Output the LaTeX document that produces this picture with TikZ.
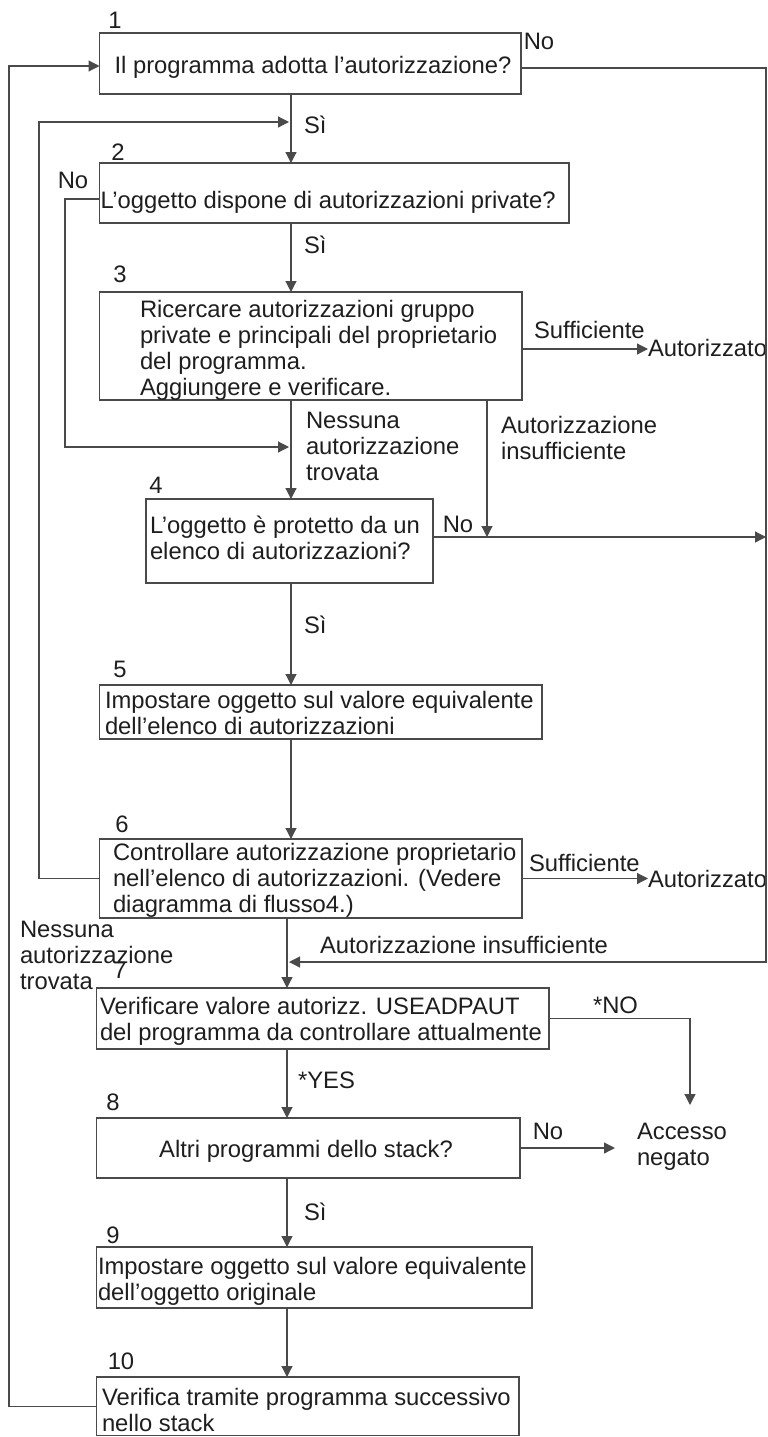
\documentclass[tikz,border=0pt]{standalone}
\usepackage{fontspec}
\setmainfont{Liberation Sans}
\usetikzlibrary{arrows.meta}
\definecolor{ink}{HTML}{1E1E1E}
\definecolor{rule}{HTML}{4A4A4A}
\begin{document}
\begin{tikzpicture}[x=1pt,y=-1pt,
  every node/.style={inner sep=0pt, outer sep=0pt, text=ink},
  txt/.style={font=\fontsize{23.8}{26}\selectfont, align=left},
  box/.style={draw=rule, line width=1.2pt, rectangle, anchor=north west},
  wire/.style={draw=rule, line width=1.2pt},
  flow/.style={wire, -{Triangle[length=11pt,width=11pt]}},
]
\useasboundingbox (0,0) rectangle (768,1437);

% ---- boxes ----
\node[box, minimum width=421.5pt, minimum height=61pt] (b1) at (99.5,33) {};
\node[box, minimum width=469.5pt, minimum height=60pt] (b2) at (99.5,163) {};
\node[box, minimum width=422.5pt, minimum height=108pt] (b3) at (99.5,292) {};
\node[box, minimum width=287pt, minimum height=84pt] (b4) at (146,499) {};
\node[box, minimum width=442.5pt, minimum height=54pt] (b5) at (99.5,685) {};
\node[box, minimum width=422.5pt, minimum height=79pt] (b6) at (99.5,839) {};
\node[box, minimum width=452.5pt, minimum height=61pt] (b7) at (96.5,988) {};
\node[box, minimum width=423.5pt, minimum height=60pt] (b8) at (96.5,1118) {};
\node[box, minimum width=435.5pt, minimum height=61pt] (b9) at (96.5,1247) {};
\node[box, minimum width=422.5pt, minimum height=58.5pt] (b10) at (96.5,1377) {};

% ---- box texts (base = baseline of the last line) ----
\node[txt, anchor=base] (t1) at (313,74) {Il programma adotta l’autorizzazione?};
\node[txt, anchor=base west] (t2) at (100.5,208) {L’oggetto dispone di autorizzazioni private?};
\node[txt, anchor=base west] (t3) at (140,395) {Ricercare autorizzazioni gruppo\\private e principali del proprietario\\del programma.\\Aggiungere e verificare.};
\node[txt, anchor=base west] (t4) at (150,559) {L’oggetto è protetto da un\\elenco di autorizzazioni?};
\node[txt, anchor=base west] (t5) at (105,734) {Impostare oggetto sul valore equivalente\\dell’elenco di autorizzazioni};
\node[txt, anchor=base west] (t6) at (113,912) {Controllare autorizzazione proprietario\\nell’elenco di autorizzazioni. (Vedere\\diagramma di flusso4.)};
\node[txt, anchor=base west] (t7) at (100,1040) {Verificare valore autorizz. USEADPAUT\\del programma da controllare attualmente};
\node[txt, anchor=base] (t8) at (306,1157) {Altri programmi dello stack?};
\node[txt, anchor=base west] (t9) at (98,1300) {Impostare oggetto sul valore equivalente\\dell’oggetto originale};
\node[txt, anchor=base west] (t10) at (102,1431) {Verifica tramite programma successivo\\nello stack};

% ---- step numbers ----
\node[txt, anchor=base] (n1) at (115,29) {1};
\node[txt, anchor=base] (n2) at (118,160) {2};
\node[txt, anchor=base] (n3) at (120,282) {3};
\node[txt, anchor=base] (n4) at (156,493) {4};
\node[txt, anchor=base] (n5) at (120,677) {5};
\node[txt, anchor=base] (n6) at (122,832) {6};
\node[txt, anchor=base] (n7) at (120,978) {7};
\node[txt, anchor=base] (n8) at (113,1110) {8};
\node[txt, anchor=base] (n9) at (113,1243) {9};
\node[txt, anchor=base] (n10) at (121,1369) {10};

% ---- branch labels and outcomes ----
\node[txt, anchor=base] (l1no) at (539,50) {No};
\node[txt, anchor=base west] (l1si) at (304,133) {Sì};
\node[txt, anchor=base] (l2no) at (73,188) {No};
\node[txt, anchor=base west] (l2si) at (304,253) {Sì};
\node[txt, anchor=base west] (l3ok) at (534,338) {Sufficiente};
\node[txt, anchor=base west] (a3) at (648,356) {Autorizzato};
\node[txt, anchor=base west] (l3none) at (306,480) {Nessuna\\autorizzazione\\trovata};
\node[txt, anchor=base west] (l3low) at (501,459) {Autorizzazione\\insufficiente};
\node[txt, anchor=base] (l4no) at (458,532) {No};
\node[txt, anchor=base west] (l4si) at (304,633) {Sì};
\node[txt, anchor=base west] (l6ok) at (529,871) {Sufficiente};
\node[txt, anchor=base west] (a6) at (648,887) {Autorizzato};
\node[txt, anchor=base west] (l6none) at (20,989) {Nessuna\\autorizzazione\\trovata};
\node[txt, anchor=base west] (l6low) at (320,953) {Autorizzazione insufficiente};
\node[txt, anchor=base west] (l7no) at (593,1013) {*NO};
\node[txt, anchor=base west] (l7yes) at (298,1088) {*YES};
\node[txt, anchor=base] (l8no) at (548,1139) {No};
\node[txt, anchor=base west] (den) at (637,1165) {Accesso\\negato};
\node[txt, anchor=base west] (l8si) at (304,1220) {Sì};

% ---- rails, ports and junction points ----
\coordinate (colA) at (291,0);
\coordinate (colB) at (287,0);
\coordinate (colR) at (766,0);
\coordinate (colL) at (9,0);
\coordinate (colM) at (39,0);
\coordinate (colN) at (65,0);
\coordinate (colI) at (487,0);
\coordinate (p1in) at (99.5,66);
\coordinate (p1out) at (521,68);
\coordinate (p2out) at (99.5,199);
\coordinate (p3out) at (522,349);
\coordinate (p4out) at (433,537);
\coordinate (j2) at (289,122);
\coordinate (j4) at (289,447);
\coordinate (j7) at (289,962);
\coordinate (j8) at (690,1105);
\coordinate (j9) at (615,1148);

% ---- main column ----
\draw[flow] (b1.south -| colA) -- (b2.north -| colA);
\draw[flow] (b2.south -| colA) -- (b3.north -| colA);
\draw[flow] (b3.south -| colA) -- (b4.north -| colA);
\draw[flow] (b4.south -| colA) -- (b5.north -| colA);
\draw[flow] (b5.south -| colA) -- (b6.north -| colA);
\draw[flow] (b6.south -| colB) -- (b7.north -| colB);
\draw[flow] (b7.south -| colB) -- (b8.north -| colB);
\draw[flow] (b8.south -| colB) -- (b9.north -| colB);
\draw[flow] (b9.south -| colB) -- (b10.north -| colB);

% ---- loops back ----
\draw[flow] (b10.west) -| (colL |- p1in) -- (p1in);
\draw[flow] (b6.west) -| (colM |- j2) -- (j2);
\draw[flow] (p2out) -| (colN |- j4) -- (j4);

% ---- side branches ----
\draw[flow] (p1out) -| (colR |- j7) -- (j7);
\draw[flow] (p3out) -- (p3out -| a3.west);
\draw[flow] (b3.south -| colI) -- (colI |- p4out);
\draw[flow] (p4out) -- (p4out -| colR);
\draw[flow] (b6.east) -- (b6.east -| a6.west);
\draw[flow] (b7.east) -| (j8);
\draw[flow] (b8.east) -- (j9);
\end{tikzpicture}
\end{document}
